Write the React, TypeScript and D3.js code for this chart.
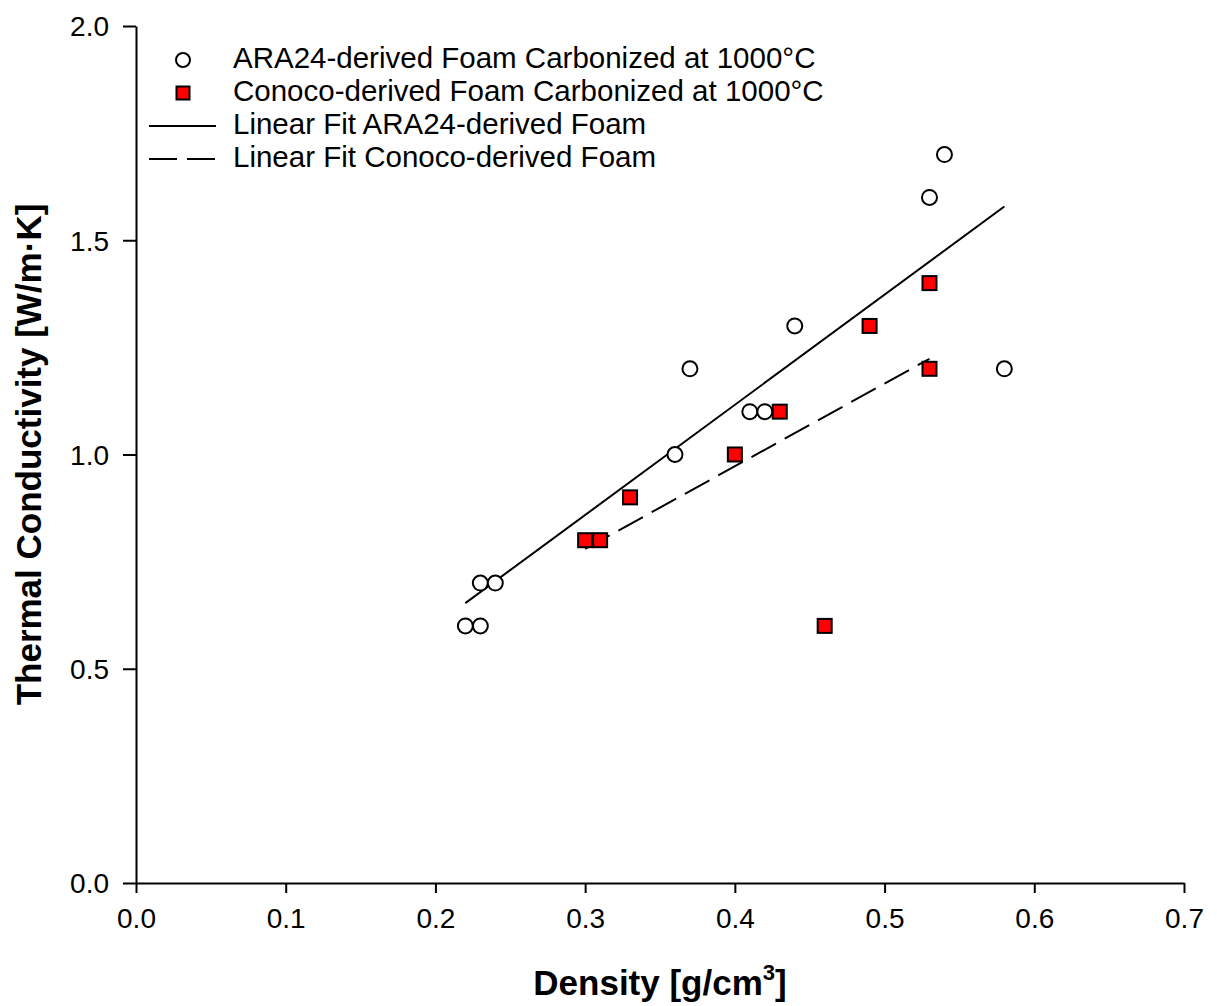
import React, { useEffect, useRef } from 'react';
import * as d3 from 'd3';

const araDensity = [0.22, 0.23, 0.23, 0.24, 0.36, 0.37, 0.41, 0.42, 0.44, 0.53, 0.54, 0.58];
const araConductivity = [0.6, 0.6, 0.7, 0.7, 1.0, 1.2, 1.1, 1.1, 1.3, 1.6, 1.7, 1.2];
const conocoDensity = [0.30, 0.31, 0.33, 0.40, 0.43, 0.46, 0.49, 0.53, 0.53];
const conocoConductivity = [0.8, 0.8, 0.9, 1.0, 1.1, 0.6, 1.3, 1.4, 1.2];
const xTicks = [0, 0.1, 0.2, 0.3, 0.4, 0.5, 0.6, 0.7];
const yTicks = [0, 0.5, 1.0, 1.5, 2.0];
const legendLabels = [
  'ARA24-derived Foam Carbonized at 1000°C',
  'Conoco-derived Foam Carbonized at 1000°C',
  'Linear Fit ARA24-derived Foam',
  'Linear Fit Conoco-derived Foam',
];

// least squares line, returned as its two end points over the data's x range
function linearFit(xs: number[], ys: number[]) {
  const mx = d3.mean(xs)!;
  const my = d3.mean(ys)!;
  const sxy = d3.sum(xs, (x, i) => (x - mx) * (ys[i] - my));
  const sxx = d3.sum(xs, (x) => (x - mx) * (x - mx));
  const slope = sxy / sxx;
  const [x0, x1] = d3.extent(xs) as [number, number];
  return [
    [x0, my + slope * (x0 - mx)],
    [x1, my + slope * (x1 - mx)],
  ];
}

export default function App() {
  const ref = useRef<SVGSVGElement>(null);

  useEffect(() => {
    const width = 1217;
    const height = 1006;
    const left = 136, right = 1184, top = 26, bottom = 883;
    const font = '"Liberation Sans", Arial, sans-serif';

    const svg = d3.select(ref.current).attr('width', width).attr('height', height);
    svg.selectAll('*').remove();

    const x = d3.scaleLinear().domain([0, 0.7]).range([left, right]);
    const y = d3.scaleLinear().domain([0, 2.0]).range([bottom, top]);

    const xAxis = svg
      .append('g')
      .attr('transform', `translate(0,${bottom})`)
      .call(d3.axisBottom(x).tickValues(xTicks).tickFormat(d3.format('.1f')).tickSize(10).tickSizeOuter(0).tickPadding(15));
    const yAxis = svg
      .append('g')
      .attr('transform', `translate(${left},0)`)
      .call(d3.axisLeft(y).tickValues(yTicks).tickFormat(d3.format('.1f')).tickSize(13).tickSizeOuter(0).tickPadding(14));

    [xAxis, yAxis].forEach((g) => {
      g.select('.domain').attr('stroke', '#000').attr('stroke-width', 2);
      g.selectAll('.tick line').attr('stroke', '#000').attr('stroke-width', 2);
      g.selectAll('.tick text').attr('fill', '#000').style('font-family', font).style('font-size', '28px');
    });
    yAxis.selectAll('.tick text').attr('dy', '0.35em');

    // axis titles
    svg
      .append('text')
      .attr('x', (left + right) / 2)
      .attr('y', 995)
      .attr('text-anchor', 'middle')
      .style('font-family', font)
      .style('font-size', '35px')
      .style('font-weight', 'bold')
      .text('Density [g/cm')
      .call((t) => t.append('tspan').attr('dy', -15).style('font-size', '22px').text('3'))
      .call((t) => t.append('tspan').attr('dy', 15).text(']'));

    svg
      .append('text')
      .attr('transform', `translate(41,${(top + bottom) / 2}) rotate(-90)`)
      .attr('text-anchor', 'middle')
      .style('font-family', font)
      .style('font-size', '35px')
      .style('font-weight', 'bold')
      .text('Thermal Conductivity [W/m·K]');

    const line = d3.line().x((d) => x(d[0])).y((d) => y(d[1]));

    svg
      .append('path')
      .attr('d', line(linearFit(araDensity, araConductivity) as [number, number][]))
      .attr('fill', 'none')
      .attr('stroke', '#000')
      .attr('stroke-width', 2);

    svg
      .append('path')
      .attr('d', line(linearFit(conocoDensity, conocoConductivity) as [number, number][]))
      .attr('fill', 'none')
      .attr('stroke', '#000')
      .attr('stroke-width', 2)
      .attr('stroke-dasharray', '28 10');

    svg
      .append('g')
      .selectAll('circle')
      .data(araDensity)
      .enter()
      .append('circle')
      .attr('cx', (d) => x(d))
      .attr('cy', (d, i) => y(araConductivity[i]))
      .attr('r', 7.5)
      .attr('fill', '#fff')
      .attr('stroke', '#000')
      .attr('stroke-width', 2);

    const s = 14;
    svg
      .append('g')
      .selectAll('rect')
      .data(conocoDensity)
      .enter()
      .append('rect')
      .attr('x', (d) => x(d) - s / 2)
      .attr('y', (d, i) => y(conocoConductivity[i]) - s / 2)
      .attr('width', s)
      .attr('height', s)
      .attr('fill', '#ff0000')
      .attr('stroke', '#000')
      .attr('stroke-width', 2);

    // legend
    const legend = svg.append('g');
    const rowY = (i: number) => 60 + i * 33;
    legend
      .append('circle')
      .attr('cx', 183)
      .attr('cy', rowY(0))
      .attr('r', 7)
      .attr('fill', '#fff')
      .attr('stroke', '#000')
      .attr('stroke-width', 2);
    legend
      .append('rect')
      .attr('x', 183 - 6.5)
      .attr('y', rowY(1) - 6.5)
      .attr('width', 13)
      .attr('height', 13)
      .attr('fill', '#ff0000')
      .attr('stroke', '#000')
      .attr('stroke-width', 2);
    legend
      .append('line')
      .attr('x1', 149).attr('x2', 216)
      .attr('y1', rowY(2)).attr('y2', rowY(2))
      .attr('stroke', '#000')
      .attr('stroke-width', 2);
    legend
      .append('line')
      .attr('x1', 149).attr('x2', 216)
      .attr('y1', rowY(3)).attr('y2', rowY(3))
      .attr('stroke', '#000')
      .attr('stroke-width', 2)
      .attr('stroke-dasharray', '28 10');
    legend
      .selectAll('text')
      .data(legendLabels)
      .enter()
      .append('text')
      .attr('x', 233)
      .attr('y', (d, i) => rowY(i) + 8)
      .style('font-family', font)
      .style('font-size', '29.5px')
      .text((d) => d);
  }, []);

  return <svg ref={ref} style={{ position: 'absolute', left: 0, top: 0, background: '#fff' }} />;
}
